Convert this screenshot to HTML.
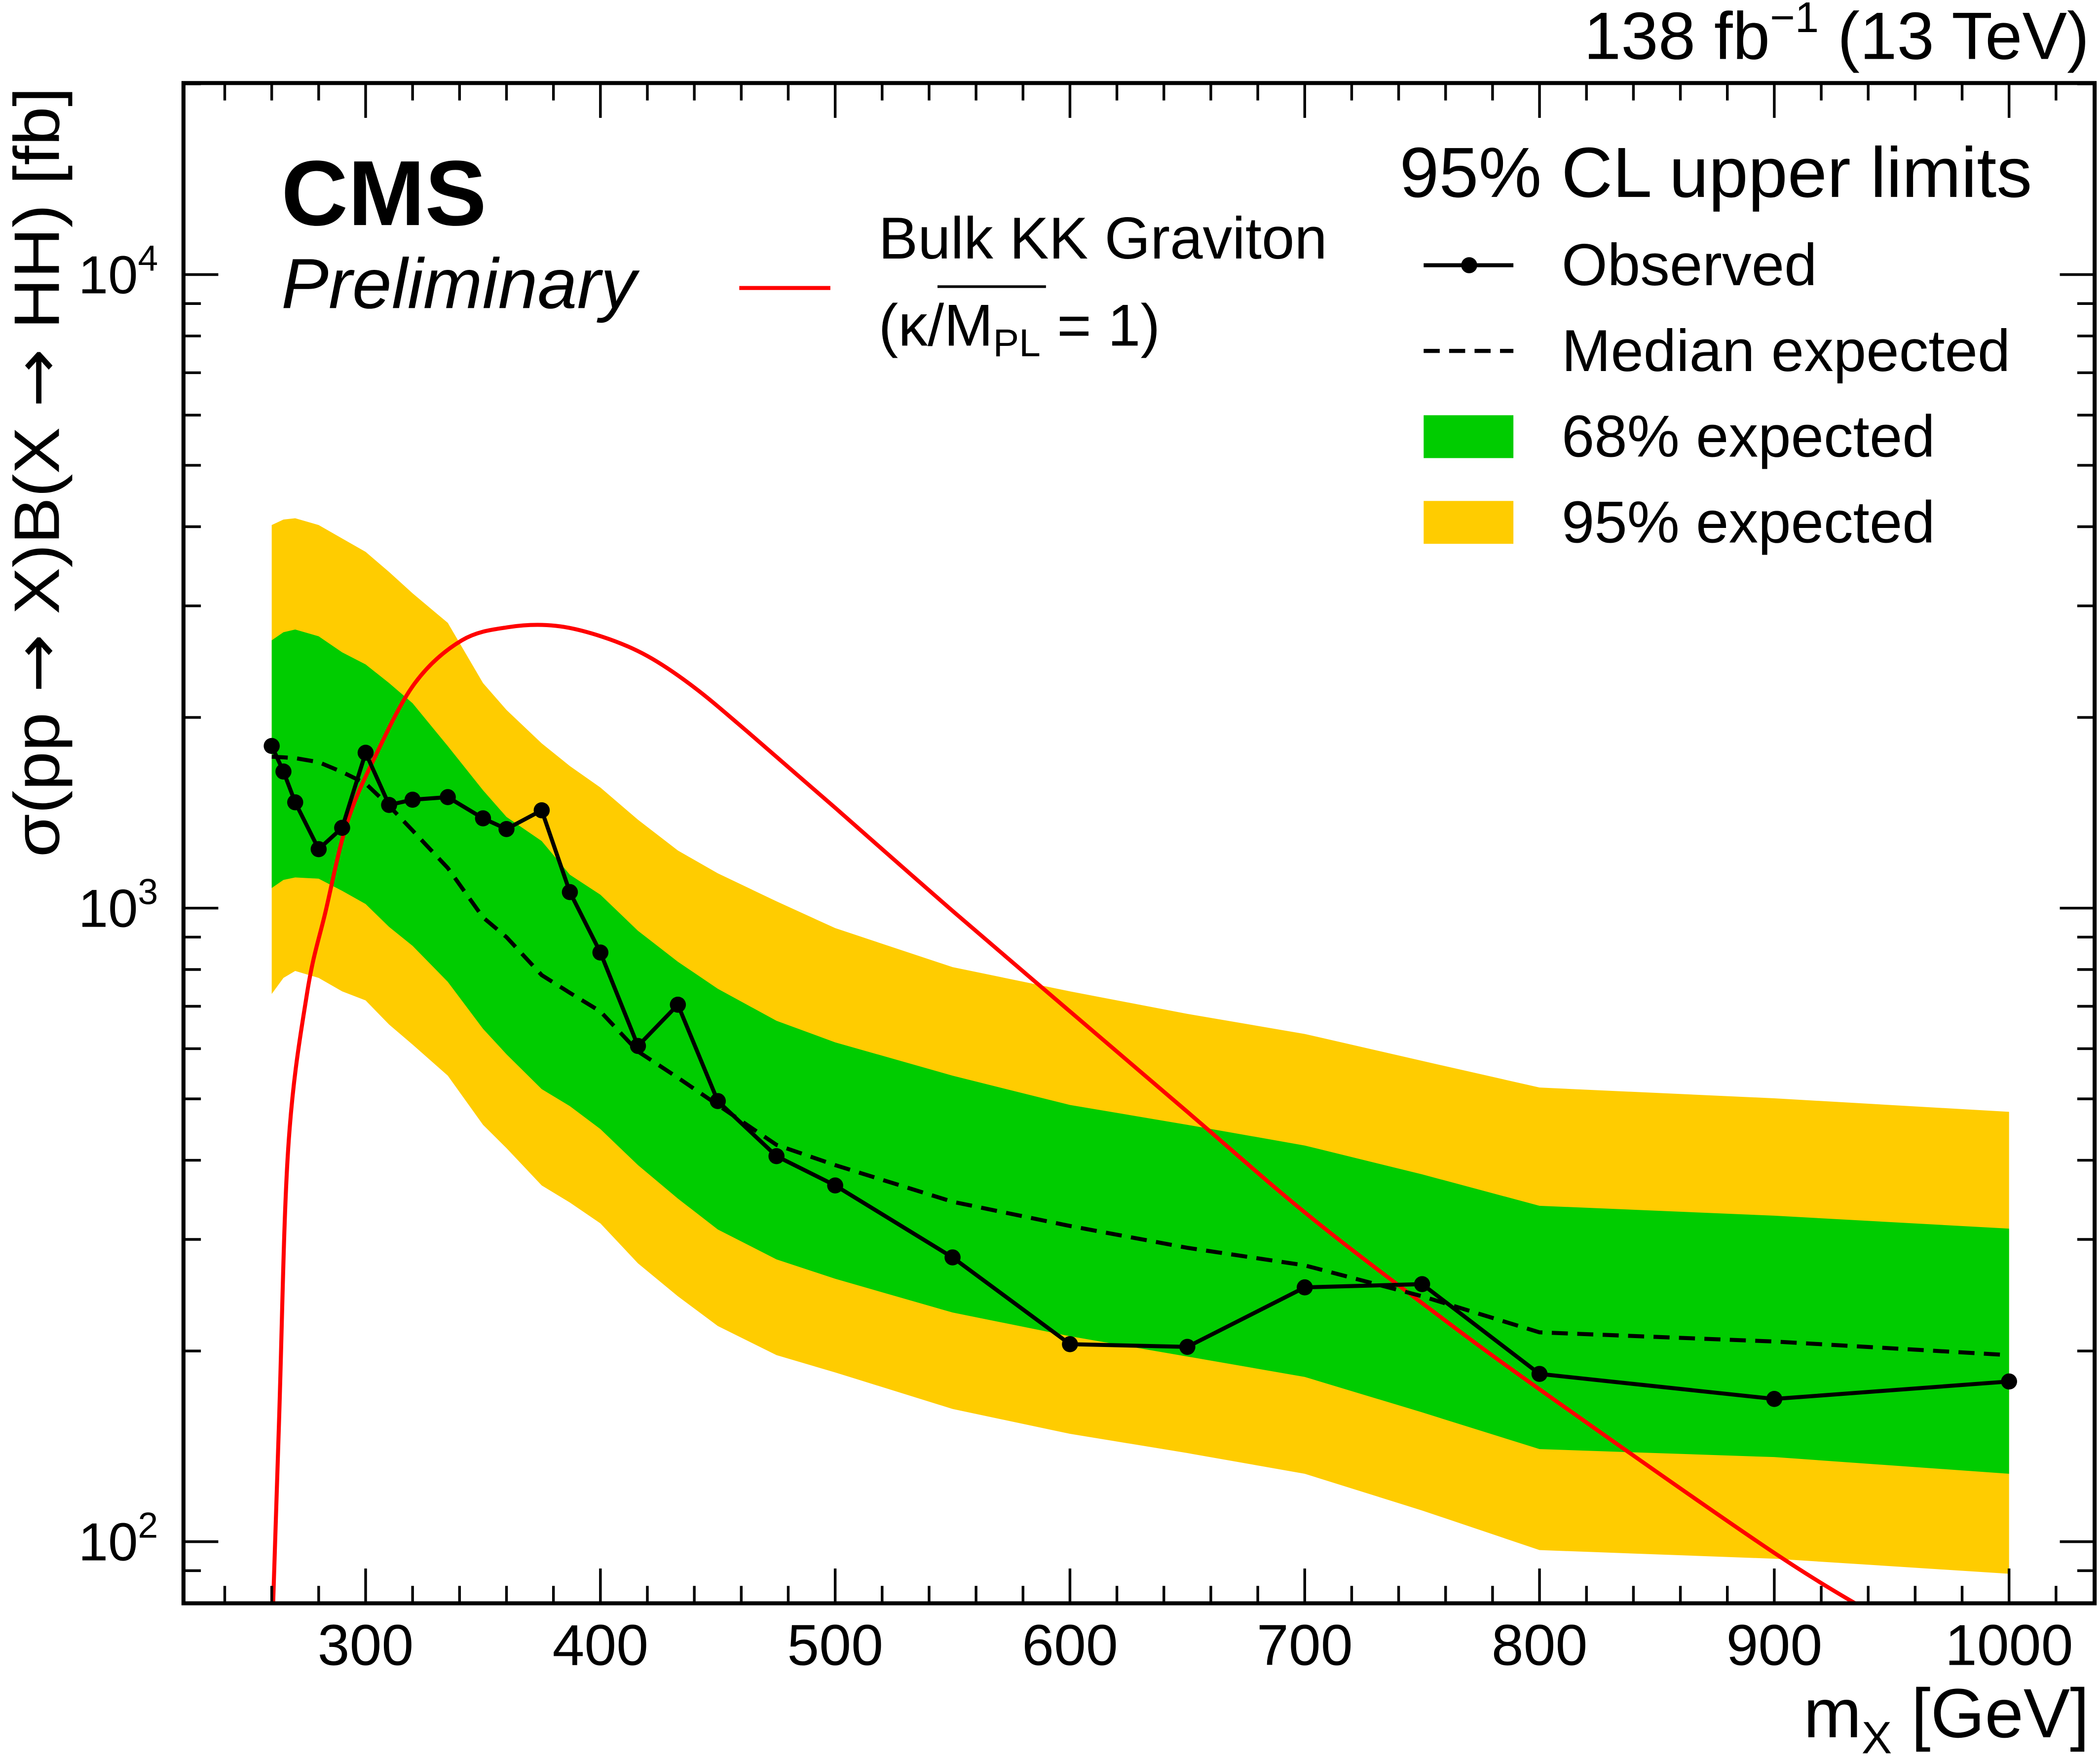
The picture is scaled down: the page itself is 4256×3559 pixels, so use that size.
<!DOCTYPE html>
<html><head><meta charset="utf-8"><style>
html,body{margin:0;padding:0;background:#fff}
svg{display:block}
text{font-family:"Liberation Sans",sans-serif;fill:#000}
.ar{font-family:"DejaVu Sans",sans-serif}
</style></head><body>
<svg id="chart" width="4256" height="3559" viewBox="0 0 1568 1311" preserveAspectRatio="none" xmlns="http://www.w3.org/2000/svg">
<defs><clipPath id="plotclip"><rect x="137" y="62" width="1427" height="1135"/></clipPath></defs>
<rect x="0" y="0" width="1568" height="1311" fill="#fff"/>
<g id="bands" clip-path="url(#plotclip)"></g>
<g id="series" clip-path="url(#plotclip)"></g>
<g id="axes"></g>
<rect x="137" y="62" width="1427" height="1135" fill="none" stroke="#000" stroke-width="3"/>
<text x="1560" y="44" font-size="50" text-anchor="end">138 fb<tspan font-size="32" dy="-20">−1</tspan><tspan dy="20"> (13 TeV)</tspan></text>
<text transform="translate(44,640) rotate(-90)" font-size="48" textLength="575" lengthAdjust="spacingAndGlyphs">σ(pp <tspan class="ar">→</tspan> X)B(X <tspan class="ar">→</tspan> HH) [fb]</text>
<text x="1560" y="1297" font-size="52" text-anchor="end">m<tspan font-size="34" dy="12">X</tspan><tspan dy="-12"> [GeV]</tspan></text>
<text x="210" y="168" font-size="69" font-weight="bold">CMS</text>
<text x="210" y="230" font-size="53" font-style="italic">Preliminary</text>
<line x1="552" y1="215" x2="620" y2="215" stroke="#ff0000" stroke-width="3"/>
<text x="656" y="193" font-size="44">Bulk KK Graviton</text>
<text x="656" y="258" font-size="44">(κ/M<tspan font-size="29" dy="8">PL</tspan><tspan dy="-8"> = 1)</tspan></text>
<line x1="700" y1="214" x2="781" y2="214" stroke="#000" stroke-width="2"/>
<text x="1045" y="147" font-size="53">95% CL upper limits</text>
<line x1="1063" y1="198" x2="1130" y2="198" stroke="#000" stroke-width="3"/>
<circle cx="1097" cy="198" r="6" fill="#000"/>
<text x="1166" y="213" font-size="44">Observed</text>
<line x1="1063" y1="262" x2="1130" y2="262" stroke="#000" stroke-width="3" stroke-dasharray="12,7"/>
<text x="1166" y="277" font-size="44">Median expected</text>
<rect x="1063" y="310" width="67" height="32" fill="#00cc00"/>
<text x="1166" y="341" font-size="44">68% expected</text>
<rect x="1063" y="374" width="67" height="32" fill="#ffcc00"/>
<text x="1166" y="405" font-size="44">95% expected</text>
</svg>
<script>
const masses = [260,265,270,280,290,300,310,320,335,350,360,375,387,400,416,433,450,475,500,550,600,650,700,750,800,900,1000];
const observed = [1803,1643,1469,1239,1339,1759,1455,1483,1497,1386,1333,1427,1060,851,606,704,496,406,365,281,205,203,252,255,184,168,179];
const expected = [1734,1730,1725,1700,1640,1573,1450,1326,1157,967,900,784,735,687,594,540,489,423,393,344,315,291,273,244,214,207,197];
const up95 = [4024,4105,4125,4024,3832,3650,3393,3140,2820,2266,2055,1820,1676,1550,1379,1233,1135,1025,930,807,739,681,633,574,521,501,477];
const up68 = [2647,2726,2753,2686,2534,2425,2266,2106,1802,1535,1393,1276,1129,1050,921,823,746,664,614,544,489,455,422,380,339,327,312];
const dn68 = [1076,1108,1118,1113,1065,1015,934,872,765,645,588,518,487,448,393,348,311,279,260,230,211,196,182,160,140,136,128];
const dn95 = [732,776,796,776,739,715,655,609,544,455,418,365,343,318,275,244,219,197,185,162,148,138,128,112,97,94,89];
const theoryMass = [258,263,267,275,283,292,304,321,341,361,381,401,420,440,464,500,550,600,650,700,750,800,900,950];
const theoryVal = [40,150,416,732,990,1360,1733,2266,2647,2777,2790,2680,2500,2230,1880,1440,990,687,477,331,238,174,96,74];
const xTicks = [300,400,500,600,700,800,900,1000];
const yTickExp = [2,3,4];

const NS='http://www.w3.org/2000/svg';
function X(m){return 273+(m-300)*1.753;}
function Y(v){return 678-473*Math.log10(v/1000);}
function mk(tag,attrs,parent){const e=document.createElementNS(NS,tag);for(const k in attrs)e.setAttribute(k,attrs[k]);parent.appendChild(e);return e;}
const bands=document.getElementById('bands'),series=document.getElementById('series'),axes=document.getElementById('axes');
function bandPath(up,dn){let d='';masses.forEach((m,i)=>{d+=(i?'L':'M')+X(m)+','+Y(up[i]);});for(let i=masses.length-1;i>=0;i--)d+='L'+X(masses[i])+','+Y(dn[i]);return d+'Z';}
const b95=mk('path',{d:bandPath(up95,dn95),fill:'#ffcc00'},bands);


const b68=mk('path',{d:bandPath(up68,dn68),fill:'#00cc00'},bands);


function line(ms,vs){return ms.map((m,i)=>(i?'L':'M')+X(m)+','+Y(vs[i])).join('');}
function smooth(ms,vs){const p=ms.map((m,i)=>[X(m),Y(vs[i])]);let d='M'+p[0][0]+','+p[0][1];
for(let i=0;i<p.length-1;i++){const p0=p[Math.max(0,i-1)],p1=p[i],p2=p[i+1],p3=p[Math.min(p.length-1,i+2)];
const c1=[p1[0]+(p2[0]-p0[0])/6,p1[1]+(p2[1]-p0[1])/6],c2=[p2[0]-(p3[0]-p1[0])/6,p2[1]-(p3[1]-p1[1])/6];
d+='C'+c1[0]+','+c1[1]+' '+c2[0]+','+c2[1]+' '+p2[0]+','+p2[1];}return d;}
const th=mk('path',{d:smooth(theoryMass,theoryVal),fill:'none',stroke:'#ff0000','stroke-width':3,'stroke-linejoin':'round'},series);


const ex=mk('path',{d:line(masses,expected),fill:'none',stroke:'#000','stroke-width':3,'stroke-dasharray':'12,7'},series);


const ob=mk('path',{d:line(masses,observed),fill:'none',stroke:'#000','stroke-width':3,'stroke-linejoin':'round'},series);


masses.forEach((m,i)=>{const c=mk('circle',{cx:X(m),cy:Y(observed[i]),r:6,fill:'#000'},series);

});
for(let m=240;m<=1020;m+=20){const major=m%100===0;const L=major?26:13;
mk('line',{x1:X(m),y1:1197,x2:X(m),y2:1197-L,stroke:'#000','stroke-width':2},axes);
mk('line',{x1:X(m),y1:62,x2:X(m),y2:62+L,stroke:'#000','stroke-width':2},axes);}
xTicks.forEach(m=>{const t=mk('text',{x:X(m),y:1243,'font-size':43,'text-anchor':'middle'},axes);t.textContent=m;

});
for(let e=1;e<=4;e++)for(let k=1;k<=9;k++){const v=k*Math.pow(10,e);const y=Y(v);if(y<62||y>1197)continue;const L=k===1?26:13;
mk('line',{x1:137,y1:y,x2:137+L,y2:y,stroke:'#000','stroke-width':2},axes);
mk('line',{x1:1564,y1:y,x2:1564-L,y2:y,stroke:'#000','stroke-width':2},axes);}
yTickExp.forEach(e=>{const t=mk('text',{x:118,y:Y(Math.pow(10,e))+14,'font-size':40,'text-anchor':'end'},axes);


t.innerHTML='10<tspan font-size="27" dy="-17">'+e+'</tspan>';});
</script>
</body></html>
